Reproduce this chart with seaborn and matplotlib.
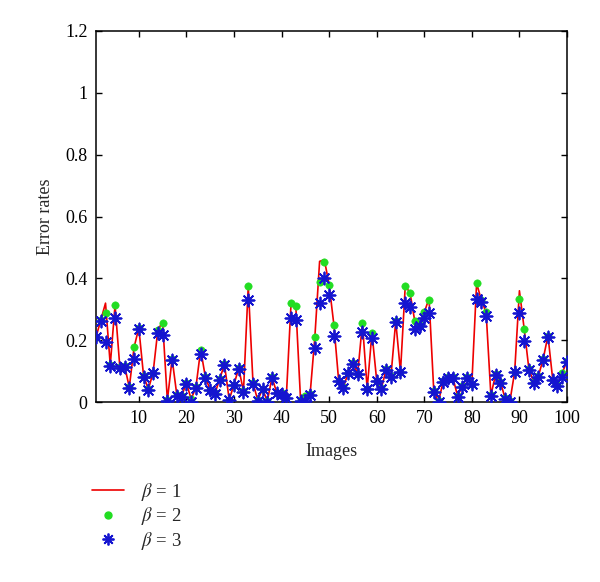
import matplotlib
matplotlib.use("Agg")
import matplotlib.pyplot as plt
import seaborn as sns
import numpy as np
import pandas as pd
from matplotlib.lines import Line2D

# error rates per image for the three beta settings
images = list(range(1, 101))
beta3 = [0.21, 0.262, 0.195, 0.118, 0.271, 0.112, 0.114, 0.046, 0.141, 0.236,
         0.08, 0.04, 0.093, 0.222, 0.217, 0.004, 0.136, 0.02, 0.017, 0.06,
         0.001, 0.046, 0.157, 0.077, 0.039, 0.026, 0.073, 0.12, 0.006, 0.055,
         0.107, 0.033, 0.33, 0.06, 0.004, 0.041, 0.001, 0.079, 0.028, 0.026,
         0.014, 0.273, 0.267, 0.004, 0.004, 0.022, 0.174, 0.321, 0.40, 0.346,
         0.214, 0.068, 0.046, 0.093, 0.122, 0.09, 0.228, 0.041, 0.206, 0.068,
         0.044, 0.104, 0.082, 0.26, 0.096, 0.322, 0.306, 0.235, 0.246, 0.273,
         0.287, 0.033, 0.001, 0.066, 0.077, 0.077, 0.017, 0.05, 0.077, 0.058,
         0.335, 0.325, 0.28, 0.02, 0.087, 0.063, 0.01, 0.001, 0.096, 0.287,
         0.198, 0.104, 0.063, 0.082, 0.136, 0.211, 0.071, 0.053, 0.082, 0.13]
beta2 = [0.21, 0.265, 0.287, 0.12, 0.314, 0.115, 0.118, 0.048, 0.177, 0.24,
         0.085, 0.042, 0.095, 0.233, 0.257, 0.006, 0.14, 0.022, 0.02, 0.062,
         0.01, 0.048, 0.168, 0.08, 0.04, 0.028, 0.075, 0.122, 0.008, 0.057,
         0.11, 0.035, 0.375, 0.062, 0.006, 0.043, 0.003, 0.08, 0.03, 0.028,
         0.016, 0.32, 0.31, 0.006, 0.02, 0.025, 0.21, 0.387, 0.454, 0.38,
         0.25, 0.07, 0.048, 0.095, 0.128, 0.092, 0.255, 0.043, 0.224, 0.07,
         0.046, 0.106, 0.085, 0.262, 0.098, 0.375, 0.354, 0.262, 0.25, 0.29,
         0.33, 0.035, 0.003, 0.068, 0.08, 0.08, 0.02, 0.052, 0.08, 0.06,
         0.384, 0.33, 0.29, 0.022, 0.09, 0.065, 0.012, 0.003, 0.098, 0.333,
         0.237, 0.106, 0.065, 0.085, 0.14, 0.215, 0.073, 0.055, 0.095, 0.132]
beta1 = [0.21, 0.265, 0.32, 0.12, 0.314, 0.115, 0.118, 0.048, 0.177, 0.24,
         0.085, 0.042, 0.095, 0.233, 0.26, 0.006, 0.14, 0.022, 0.02, 0.062,
         0.01, 0.048, 0.17, 0.08, 0.04, 0.028, 0.075, 0.122, 0.008, 0.057,
         0.11, 0.035, 0.375, 0.062, 0.006, 0.043, 0.003, 0.08, 0.03, 0.028,
         0.016, 0.32, 0.31, 0.006, 0.02, 0.025, 0.21, 0.455, 0.46, 0.38,
         0.25, 0.07, 0.048, 0.095, 0.128, 0.092, 0.255, 0.043, 0.224, 0.07,
         0.046, 0.106, 0.085, 0.262, 0.098, 0.375, 0.354, 0.262, 0.25, 0.29,
         0.335, 0.035, 0.003, 0.068, 0.08, 0.08, 0.02, 0.052, 0.08, 0.06,
         0.384, 0.33, 0.29, 0.022, 0.09, 0.065, 0.012, 0.003, 0.098, 0.36,
         0.237, 0.106, 0.065, 0.085, 0.14, 0.215, 0.073, 0.055, 0.095, 0.132]
legend_labels = [r"$\beta$ = 1", r"$\beta$ = 2", r"$\beta$ = 3"]

df = pd.DataFrame({"image": images, "b1": beta1, "b2": beta2, "b3": beta3})

sns.set_style("ticks")
plt.rcParams["font.family"] = ["Liberation Serif", "DejaVu Serif"]
plt.rcParams["mathtext.fontset"] = "stix"

fig = plt.figure(figsize=(6, 5.82), dpi=100)
ax = fig.add_axes([0.16, 0.309, 0.785, 0.638])

star = (8, 2, 0)
sns.lineplot(data=df, x="image", y="b1", color="#ee0000", linewidth=1.2, ax=ax, zorder=2)
sns.scatterplot(data=df, x="image", y="b2", color="#22dd22", edgecolor="#22dd22",
                s=28, ax=ax, zorder=3)
sns.scatterplot(data=df, x="image", y="b3", color="#1515d0", edgecolor="#1515d0",
                marker=star, s=75, linewidth=1.3, ax=ax, zorder=4)

ax.set_xlim(1, 100)
ax.set_ylim(0, 1.2)
ax.set_xticks(range(10, 101, 10))
ax.set_yticks([0, 0.2, 0.4, 0.6, 0.8, 1.0, 1.2])
ax.set_yticklabels(["0", "0.2", "0.4", "0.6", "0.8", "1", "1.2"])
ax.tick_params(direction="in", top=True, right=True, length=4, width=1,
               labelsize=13, colors="black", pad=6)
for sp in ax.spines.values():
    sp.set_visible(True)
    sp.set_linewidth(1.1)
    sp.set_color("black")
ax.set_xlabel("Images", fontsize=13, labelpad=11)
ax.set_ylabel("Error rates", fontsize=13, labelpad=8)

handles = [
    Line2D([], [], color="#ee0000", linewidth=1.2),
    Line2D([], [], color="#22dd22", marker="o", linestyle="", markersize=5),
    Line2D([], [], color="#1515d0", marker=star, linestyle="", markersize=8.5, markeredgewidth=1.3),
]
fig.legend(handles, legend_labels, loc="upper left", bbox_to_anchor=(92 / 600, 1 - 481 / 582),
           frameon=False, fontsize=13.5, handlelength=1.7, handletextpad=0.9,
           labelspacing=0.12, borderpad=0, borderaxespad=0)

fig.savefig("out.png", dpi=100)
